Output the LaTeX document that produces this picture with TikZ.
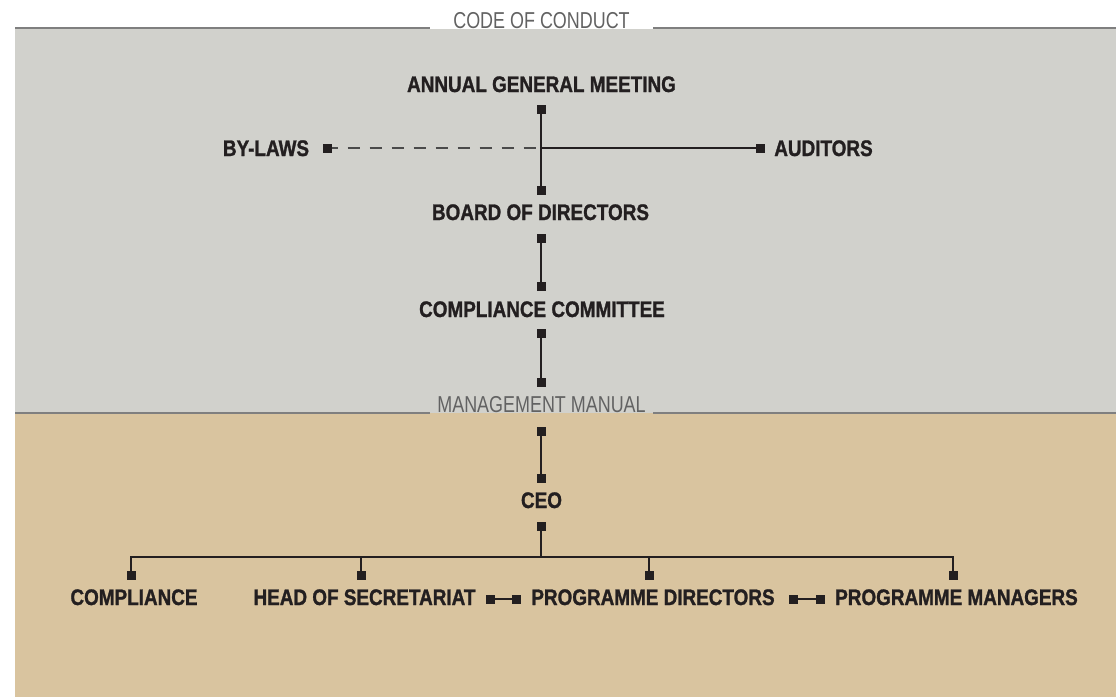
\documentclass[tikz,border=0pt]{standalone}
\usepackage{fontspec}
\setmainfont{Liberation Sans}
\newfontfamily\cond[FakeStretch=0.84,BoldFeatures={FakeStretch=0.84,FakeBold=1.2}]{Liberation Sans}
\newfontfamily\condlight[FakeStretch=0.78]{Liberation Sans}
\definecolor{ink}{HTML}{231F20}
\definecolor{secgray}{HTML}{626262}
\definecolor{rulegray}{HTML}{7F7F7F}
\definecolor{dashgray}{HTML}{4A4A4A}
\definecolor{panelgray}{RGB}{209,209,204}
\definecolor{paneltan}{RGB}{217,196,159}
\begin{document}
\begin{tikzpicture}[x=1pt,y=-1pt,
  mk/.style={rectangle,fill=ink,minimum size=9pt,inner sep=0pt,outer sep=0pt},
  lbl/.style={font=\cond\bfseries\fontsize{22.5}{22.5}\selectfont,text=ink,inner sep=0pt,anchor=base},
  sec/.style={font=\condlight\fontsize{23}{23}\selectfont,text=secgray,inner sep=0pt,anchor=base},
  con/.style={draw=ink,line width=1.4pt},
  bylawline/.style={draw=dashgray,line width=1.4pt,dash pattern=on 12pt off 10pt,dash phase=6pt},
  rulestyle/.style={draw=rulegray,line width=1.6pt}]
\useasboundingbox (0,0) rectangle (1116,697);
% panels
\fill[panelgray] (15,29) rectangle (1116,413);
\fill[paneltan] (15,413) rectangle (1116,697);
% rules with section labels
\draw[rulestyle] (15,28) -- (430,28);
\draw[rulestyle] (653,28) -- (1116,28);
\draw[rulestyle] (15,413) -- (430,413);
\draw[rulestyle] (653,413) -- (1116,413);
\node[sec] (coc) at (541.5,28) {CODE OF CONDUCT};
\node[sec] (mm) at (541.5,412) {MANAGEMENT MANUAL};
% labels
\node[lbl] (agm) at (541.5,92) {ANNUAL GENERAL MEETING};
\node[lbl] (bylaws) at (266,156) {BY-LAWS};
\node[lbl] (aud) at (823.5,156) {AUDITORS};
\node[lbl] (bod) at (540.5,220) {BOARD OF DIRECTORS};
\node[lbl] (cc) at (542,317) {COMPLIANCE COMMITTEE};
\node[lbl] (ceo) at (541.5,508) {CEO};
\node[lbl] (cmp) at (134,605) {COMPLIANCE};
\node[lbl] (hos) at (364.5,605) {HEAD OF SECRETARIAT};
\node[lbl] (pd) at (653,605) {PROGRAMME DIRECTORS};
\node[lbl] (pm) at (956.5,605) {PROGRAMME MANAGERS};
% markers
\node[mk] (agmB) at (541,109) {};
\node[mk] (byM) at (327,148) {};
\node[mk] (audM) at (760,148) {};
\node[mk] (bodT) at (541,190) {};
\node[mk] (bodB) at (541,238) {};
\node[mk] (ccT) at (541,286) {};
\node[mk] (ccB) at (541,333) {};
\node[mk] (mmT) at (541,382) {};
\node[mk] (mmB) at (541,431) {};
\node[mk] (ceoT) at (541,478) {};
\node[mk] (ceoB) at (541,526) {};
\node[mk] (cmpM) at (131,575) {};
\node[mk] (hosM) at (361,575) {};
\node[mk] (pdM) at (649,575) {};
\node[mk] (pmM) at (953,575) {};
\node[mk] (hosR) at (490,599) {};
\node[mk] (pdL) at (516,599) {};
\node[mk] (pdR) at (793,599) {};
\node[mk] (pmL) at (820,599) {};
\coordinate (jn) at (541,148);
\coordinate (bus) at (541,557);
% connectors
\draw[con] (agmB) -- (bodT);
\draw[con] (jn) -- (audM);
\draw[bylawline] (byM) -- (jn);
\draw[con] (bodB) -- (ccT);
\draw[con] (ccB) -- (mmT);
\draw[con] (mmB) -- (ceoT);
\draw[con] (ceoB) -- (bus);
\draw[con] (bus) -| (cmpM);
\draw[con] (bus) -| (hosM);
\draw[con] (bus) -| (pdM);
\draw[con] (bus) -| (pmM);
\draw[con] (hosR) -- (pdL);
\draw[con] (pdR) -- (pmL);
\end{tikzpicture}
\end{document}
